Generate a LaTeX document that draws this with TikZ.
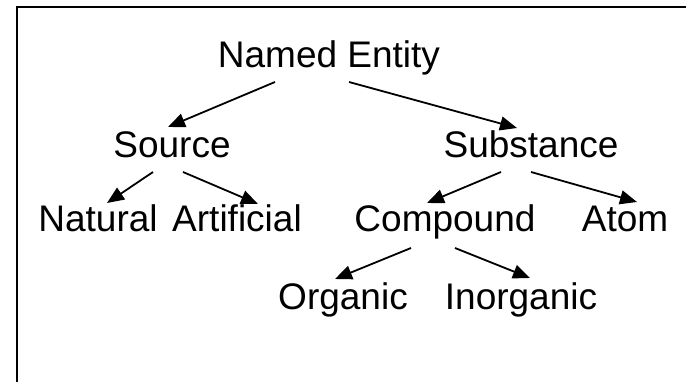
\documentclass[tikz,border=0pt]{standalone}
\usepackage{fontspec}
\setmainfont{Liberation Sans}
\usetikzlibrary{arrows.meta,calc}
\begin{document}
\begin{tikzpicture}[x=1pt,y=-1pt,
  lbl/.style={anchor=base,inner sep=0pt,font=\fontsize{37}{44}\selectfont},
  arr/.style={line width=1.8pt,-{Triangle[length=17pt,width=14pt]}},
  frame/.style={line width=2.6pt}]
\useasboundingbox (0,0) rectangle (686,382);
\draw[frame] (17,382) -- (17,7) -- (686,7);
\node[lbl] (ne) at (329,68) {Named Entity};
\node[lbl] (src) at (172,158) {Source};
\node[lbl] (sub) at (531,158) {Substance};
\node[lbl] (nat) at (98,232) {Natural};
\node[lbl] (art) at (237,232) {Artificial};
\node[lbl] (cmp) at (445,232) {Compound};
\node[lbl] (atm) at (625,232) {Atom};
\node[lbl] (org) at (343,310) {Organic};
\node[lbl] (ino) at (521,310) {Inorganic};
\draw[arr] ($(ne.base)+(-54,14)$) -- ($(src.base)+(-4,-31)$);
\draw[arr] ($(ne.base)+(20,14)$) -- ($(sub.base)+(-14,-30)$);
\draw[arr] ($(src.base)+(-19,14)$) -- ($(nat.base)+(9,-29)$);
\draw[arr] ($(src.base)+(11,14)$) -- ($(art.base)+(21,-28)$);
\draw[arr] ($(sub.base)+(-30,14)$) -- ($(cmp.base)+(-18,-29)$);
\draw[arr] ($(sub.base)+(0,14)$) -- ($(atm.base)+(12,-30)$);
\draw[arr] ($(cmp.base)+(-34,16)$) -- ($(org.base)+(-8,-31)$);
\draw[arr] ($(cmp.base)+(10,16)$) -- ($(ino.base)+(9,-32)$);
\end{tikzpicture}
\end{document}
